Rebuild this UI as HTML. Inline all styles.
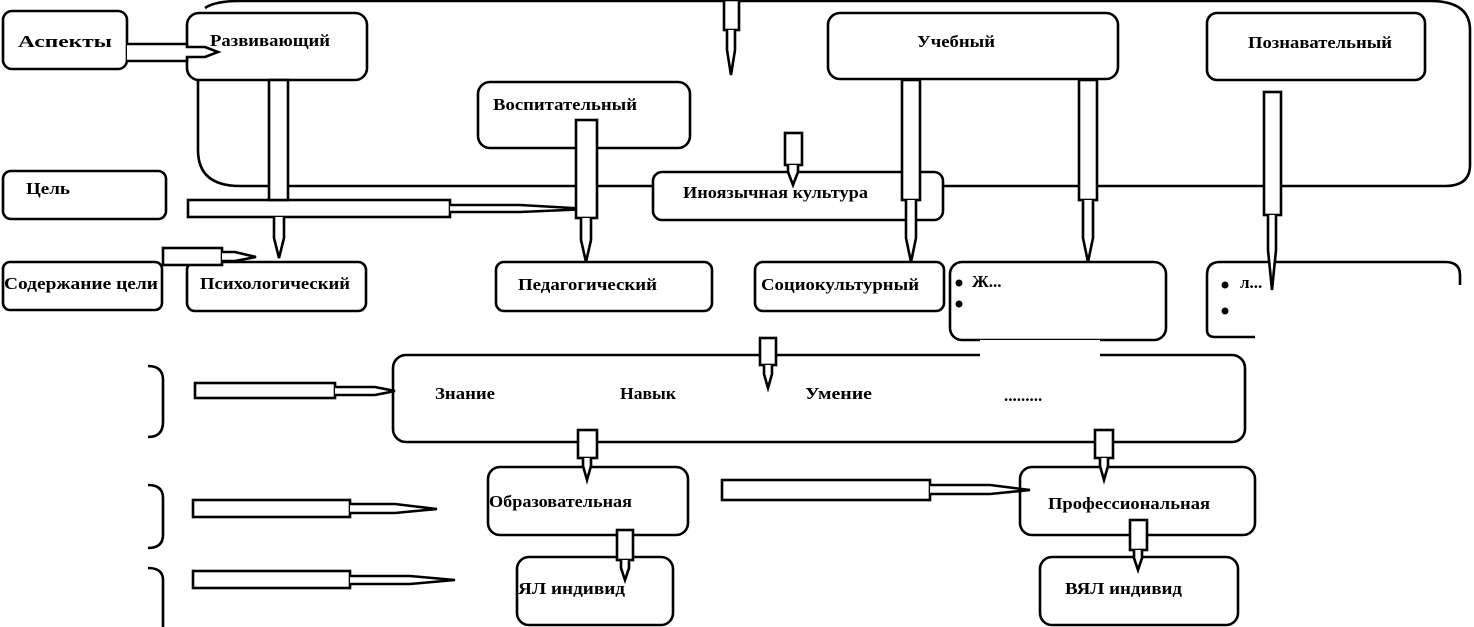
<!DOCTYPE html>
<html><head><meta charset="utf-8">
<style>
html,body{margin:0;padding:0;background:#fff;}
svg{display:block;}
text{font-family:"Liberation Serif","Noto Serif CJK SC",serif;font-size:17px;font-weight:bold;fill:#000;}
</style></head>
<body>
<svg width="1474" height="627" viewBox="0 0 1474 627" xmlns="http://www.w3.org/2000/svg" fill="none" stroke="#000" stroke-width="2.6">
<path d="M205 8 Q215 1 240 1 L1430 1 Q1470 1 1470 30 L1470 165 Q1470 186 1445 186 L240 186 Q198 186 198 150 L198 80"/>
<rect x="3" y="11" width="124" height="58" rx="9" fill="#fff"/>
<rect x="187" y="13" width="180" height="67" rx="12" fill="#fff"/>
<rect x="478" y="82" width="212" height="66" rx="12" fill="#fff"/>
<rect x="828" y="13" width="290" height="66" rx="12" fill="#fff"/>
<rect x="1207" y="13" width="218" height="67" rx="10" fill="#fff"/>
<rect x="3" y="171" width="163" height="48" rx="8" fill="#fff"/>
<rect x="653" y="172" width="290" height="48" rx="9" fill="#fff"/>
<rect x="3" y="262" width="159" height="48" rx="7" fill="#fff"/>
<rect x="187" y="262" width="179" height="49" rx="8" fill="#fff"/>
<rect x="496" y="262" width="216" height="49" rx="8" fill="#fff"/>
<rect x="755" y="262" width="189" height="49" rx="8" fill="#fff"/>
<rect x="950" y="262" width="216" height="78" rx="12" fill="#fff"/>
<path d="M1207 330 L1207 275 Q1207 262 1220 262 L1445 262 Q1460 262 1460 275 L1460 285"/>
<path d="M1207 330 Q1207 337 1215 337 L1255 337"/>
<rect x="393" y="355" width="852" height="87" rx="13" fill="#fff"/>
<rect x="488" y="467" width="200" height="68" rx="12" fill="#fff"/>
<rect x="1020" y="467" width="235" height="68" rx="12" fill="#fff"/>
<rect x="517" y="557" width="156" height="68" rx="12" fill="#fff"/>
<rect x="1040" y="557" width="198" height="68" rx="12" fill="#fff"/>
<rect x="980" y="340" width="120" height="18" fill="#fff" stroke="none"/>
<rect x="1000" y="380" width="100" height="18" fill="#fff" stroke="none"/>
<g fill="#fff">
<path d="M127 44 L187 44 L187 47 L205 47 L218 52 L205 57 L187 57 L187 61 L127 61"/>
<rect x="188" y="200" width="262" height="17"/>
<path d="M450 205 L520 205 L590 209 L520 212 L450 212"/>
<rect x="163" y="248" width="59" height="17"/>
<path d="M222 252 L235 252 L256 257 L235 261 L222 261"/>
<rect x="195" y="383" width="140" height="15"/>
<path d="M335 387 L375 387 L395 391 L375 395 L335 395"/>
<rect x="193" y="500" width="157" height="17"/>
<path d="M350 504 L395 504 L437 509 L395 513 L350 513"/>
<rect x="193" y="571" width="157" height="17"/>
<path d="M350 576 L410 576 L455 580 L410 584 L350 584"/>
<rect x="722" y="480" width="208" height="20"/>
<path d="M930 485 L990 485 L1030 490 L990 494 L930 494"/>
</g>
<g fill="#fff">
<rect x="724" y="0" width="15" height="30"/><path d="M727 30 L727 50 L731 75 L735 50 L735 30"/>
<rect x="269" y="80" width="19" height="120"/><path d="M274 217 L274 238 L279 258 L284 238 L284 217"/>
<rect x="576" y="120" width="21" height="98"/><path d="M581 218 L581 240 L586 262 L591 240 L591 218"/>
<rect x="785" y="133" width="17" height="32"/><path d="M788 165 L788 172 L793 185 L798 172 L798 165"/>
<rect x="902" y="80" width="18" height="120"/><path d="M906 200 L906 238 L911 262 L916 238 L916 200"/>
<rect x="1079" y="80" width="18" height="120"/><path d="M1083 200 L1083 238 L1088 262 L1093 238 L1093 200"/>
<rect x="1264" y="92" width="17" height="123"/><path d="M1268 215 L1268 250 L1272 290 L1276 250 L1276 215"/>
<rect x="760" y="338" width="16" height="27"/><path d="M764 365 L764 374 L768 388 L772 374 L772 365"/>
<rect x="578" y="430" width="19" height="28"/><path d="M583 458 L583 466 L587 480 L591 466 L591 458"/>
<rect x="1095" y="430" width="18" height="28"/><path d="M1100 458 L1100 466 L1104 480 L1108 466 L1108 458"/>
<rect x="617" y="530" width="16" height="30"/><path d="M621 560 L621 568 L625 580 L629 568 L629 560"/>
<rect x="1130" y="520" width="17" height="30"/><path d="M1134 550 L1134 558 L1138 570 L1142 558 L1142 550"/>
</g>
<path d="M148 366 Q163 366 163 380 L163 422 Q163 437 148 437"/>
<path d="M148 485 Q163 485 163 498 L163 535 Q163 548 148 548"/>
<path d="M148 568 Q163 568 163 580 L163 627"/>
<g fill="#000" stroke="none">
<circle cx="959" cy="283" r="3.5"/><circle cx="959" cy="304" r="3.5"/>
<circle cx="1225" cy="285" r="3.5"/><circle cx="1225" cy="311" r="3.5"/>
</g>
<g stroke="none">
<text x="18" y="47" textLength="94" lengthAdjust="spacingAndGlyphs">Аспекты</text>
<text x="210" y="46" textLength="120" lengthAdjust="spacingAndGlyphs">Развивающий</text>
<text x="493" y="110" textLength="144" lengthAdjust="spacingAndGlyphs">Воспитательный</text>
<text x="917" y="47" textLength="78" lengthAdjust="spacingAndGlyphs">Учебный</text>
<text x="1248" y="48" textLength="144" lengthAdjust="spacingAndGlyphs">Познавательный</text>
<text x="26" y="194" textLength="44" lengthAdjust="spacingAndGlyphs">Цель</text>
<text x="683" y="198" textLength="185" lengthAdjust="spacingAndGlyphs">Иноязычная культура</text>
<text x="4" y="289" textLength="154" lengthAdjust="spacingAndGlyphs">Содержание цели</text>
<text x="200" y="289" textLength="150" lengthAdjust="spacingAndGlyphs">Психологический</text>
<text x="518" y="290" textLength="139" lengthAdjust="spacingAndGlyphs">Педагогический</text>
<text x="761" y="290" textLength="158" lengthAdjust="spacingAndGlyphs">Социокультурный</text>
<text x="972" y="287" font-size="12">Ж...</text>
<text x="1240" y="288" font-size="12">л...</text>
<text x="435" y="399" textLength="60" lengthAdjust="spacingAndGlyphs">Знание</text>
<text x="620" y="399" textLength="56" lengthAdjust="spacingAndGlyphs">Навык</text>
<text x="805" y="399" textLength="67" lengthAdjust="spacingAndGlyphs">Умение</text>
<text x="1004" y="401" font-size="10">.........</text>
<text x="489" y="507" textLength="143" lengthAdjust="spacingAndGlyphs">Образовательная</text>
<text x="1048" y="509" textLength="162" lengthAdjust="spacingAndGlyphs">Профессиональная</text>
<text x="518" y="594" textLength="107" lengthAdjust="spacingAndGlyphs">ЯЛ индивид</text>
<text x="1065" y="594" textLength="117" lengthAdjust="spacingAndGlyphs">ВЯЛ индивид</text>
</g>
</svg>
</body></html>
